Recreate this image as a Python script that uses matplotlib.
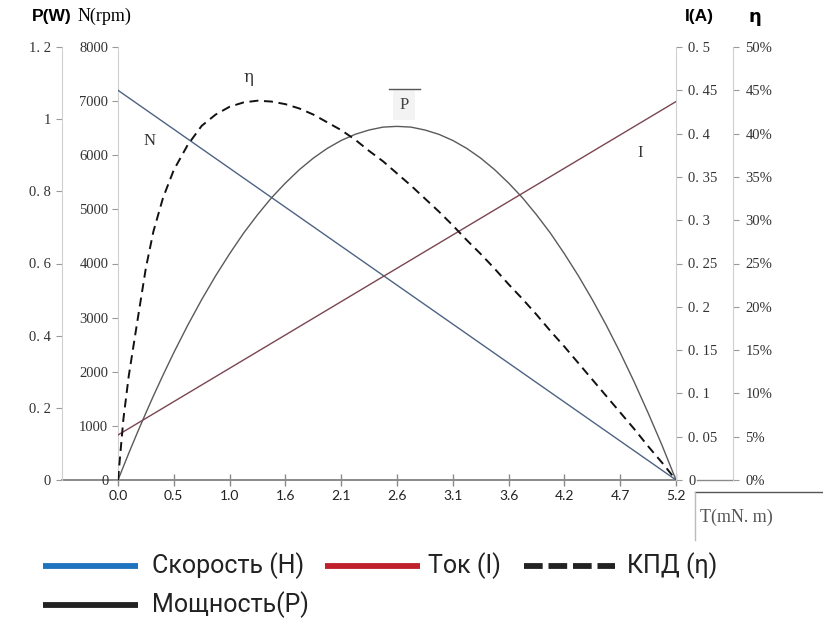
import matplotlib
matplotlib.use("Agg")
import matplotlib.pyplot as plt
from matplotlib.lines import Line2D

# === Data ===
torque = [0, 0.05, 0.10, 0.18, 0.26, 0.33, 0.42, 0.52, 0.65, 0.78,
          0.91, 1.04, 1.17, 1.30, 1.43, 1.56, 1.69, 1.82, 1.95, 2.08,
          2.21, 2.34, 2.47, 2.60, 2.73, 2.86, 2.99, 3.12, 3.25, 3.38,
          3.51, 3.64, 3.77, 3.90, 4.03, 4.16, 4.29, 4.42, 4.55, 4.68,
          4.81, 4.94, 5.07, 5.20]
power_w = [0, 0.037, 0.074, 0.131, 0.186, 0.233, 0.291, 0.353, 0.429, 0.500,
           0.566, 0.627, 0.684, 0.735, 0.782, 0.823, 0.860, 0.892, 0.919, 0.941,
           0.958, 0.970, 0.978, 0.980, 0.978, 0.970, 0.958, 0.941, 0.919, 0.892,
           0.860, 0.823, 0.782, 0.735, 0.684, 0.627, 0.566, 0.500, 0.429, 0.353,
           0.272, 0.186, 0.096, 0]
eff_pct = [0, 7.0, 12.0, 18.3, 24.5, 28.7, 32.6, 35.8, 38.7, 40.9,
           42.2, 43.1, 43.6, 43.8, 43.7, 43.4, 42.9, 42.2, 41.3, 40.4,
           39.3, 38.0, 36.8, 35.4, 34.0, 32.5, 31.0, 29.4, 27.7, 26.1,
           24.4, 22.6, 20.9, 19.1, 17.2, 15.4, 13.5, 11.6, 9.7, 7.8,
           5.9, 3.9, 2.0, 0]

torque_lin = [0, 5.2]
speed_rpm = [7200, 0]
current_a = [0.052, 0.437]

x_ticks = [0, 0.52, 1.04, 1.56, 2.08, 2.6, 3.12, 3.64, 4.16, 4.68, 5.2]
x_tick_labels = ["0.0", "0.5", "1.0", "1.6", "2.1", "2.6", "3.1", "3.6", "4.2", "4.7", "5.2"]
n_ticks = [0, 1000, 2000, 3000, 4000, 5000, 6000, 7000, 8000]
p_ticks = [0, 0.2, 0.4, 0.6, 0.8, 1.0, 1.2]
p_tick_labels = ["0", "0. 2", "0. 4", "0. 6", "0. 8", "1", "1. 2"]
i_ticks = [0, 0.05, 0.1, 0.15, 0.2, 0.25, 0.3, 0.35, 0.4, 0.45, 0.5]
i_tick_labels = ["0", "0. 05", "0. 1", "0. 15", "0. 2", "0. 25", "0. 3", "0. 35", "0. 4", "0. 45", "0. 5"]
e_ticks = [0, 5, 10, 15, 20, 25, 30, 35, 40, 45, 50]
e_tick_labels = ["0%", "5%", "10%", "15%", "20%", "25%", "30%", "35%", "40%", "45%", "50%"]

legend_labels = ["Скорость (Н)", "Ток (I)", "КПД (η)", "Мощность(P)"]

W, H = 823, 620
SERIF = "Liberation Serif"
SPINE = "#cfcfcf"


def fx(x):
    return x / W


def fy(y):
    return 1 - y / H


fig = plt.figure(figsize=(W / 100, H / 100), dpi=100)
ax = fig.add_axes([fx(118), fy(480), (676 - 118) / W, (480 - 47) / H])

# === Curves ===
ax.plot(torque_lin, speed_rpm, color="#4e6383", lw=1.0, zorder=3)
ax.set_xlim(0, 5.2)
ax.set_ylim(0, 8000)

ax_p = ax.twinx()
ax_p.plot(torque, power_w, color="#5a5a5a", lw=1.0, zorder=3)
ax_p.set_ylim(0, 1.2)

ax_i = ax.twinx()
ax_i.plot(torque_lin, current_a, color="#7a4650", lw=1.0, zorder=3)
ax_i.set_ylim(0, 0.5)

ax_e = ax.twinx()
ax_e.plot(torque, eff_pct, color="#111111", lw=1.4, dashes=(4.6, 2.9), zorder=3)
ax_e.set_ylim(0, 50)

for a in (ax, ax_p, ax_i, ax_e):
    for s in a.spines.values():
        s.set_visible(False)
    a.patch.set_visible(False)

# N axis (left of plot)
ax.spines["left"].set_visible(True)
ax.spines["left"].set_color(SPINE)
ax.spines["bottom"].set_visible(True)
ax.spines["bottom"].set_color("#8a8a8a")
ax.spines["bottom"].set_linewidth(1.4)
ax.set_yticks(n_ticks)
ax.set_yticklabels([str(v) for v in n_ticks], fontfamily=SERIF, fontsize=10.5, color="#333333")
ax.tick_params(axis="y", length=4, color="#999999", pad=3)
ax.set_xticks(x_ticks)
ax.set_xticklabels(x_tick_labels, fontfamily="Lato", fontsize=10, color="#222222")
ax.tick_params(axis="x", direction="inout", length=8, width=1.0, color="#8a8a8a", pad=3)

# P axis (outer left), offsets in points
ax_p.yaxis.set_ticks_position("left")
ax_p.spines["left"].set_visible(True)
ax_p.spines["left"].set_position(("outward", 40.3))
ax_p.spines["left"].set_color(SPINE)
ax_p.set_yticks(p_ticks)
ax_p.set_yticklabels(p_tick_labels, fontfamily=SERIF, fontsize=10.5, color="#333333")
ax_p.tick_params(axis="y", length=4, color="#999999", pad=4)

# I axis (right of plot)
ax_i.spines["right"].set_visible(True)
ax_i.spines["right"].set_color(SPINE)
ax_i.set_yticks(i_ticks)
ax_i.set_yticklabels(i_tick_labels, fontfamily=SERIF, fontsize=10.5, color="#333333")
ax_i.tick_params(axis="y", length=4, color="#999999", pad=5)

# eta axis (outer right)
ax_e.spines["right"].set_visible(True)
ax_e.spines["right"].set_position(("outward", 41))
ax_e.spines["right"].set_color(SPINE)
ax_e.set_yticks(e_ticks)
ax_e.set_yticklabels(e_tick_labels, fontfamily=SERIF, fontsize=10.5, color="#333333")
ax_e.tick_params(axis="y", length=4, color="#999999", pad=5)

# baseline extending to the outer axes
fig.add_artist(Line2D([fx(62), fx(118)], [fy(480), fy(480)], color="#8a8a8a", lw=1.4, zorder=0))
fig.add_artist(Line2D([fx(697), fx(733)], [fy(480), fy(480)], color="#8a8a8a", lw=1.0, zorder=0))

# === Axis headers ===
fig.text(fx(32), fy(16), "P(W)", fontsize=12.5, fontweight="bold", fontfamily="Liberation Sans", va="center")
fig.text(fx(78), fy(16), "N(rpm)", fontsize=13, fontfamily=SERIF, va="center")
fig.text(fx(685), fy(16), "I(A)", fontsize=12.5, fontweight="bold", fontfamily="Liberation Sans", va="center")
fig.text(fx(748), fy(17), "η", fontsize=13, fontweight="bold", fontfamily="DejaVu Sans", va="center")

# === Curve labels ===
fig.text(fx(150), fy(141), "N", fontsize=12, fontfamily=SERIF, color="#333333", ha="center", va="center")
fig.text(fx(248), fy(78), "η", fontsize=12, fontfamily="DejaVu Serif", color="#333333", ha="center", va="center")
fig.text(fx(640), fy(153), "I", fontsize=12, fontfamily=SERIF, color="#333333", ha="center", va="center")
fig.text(fx(404), fy(105), "P", fontsize=12, fontfamily=SERIF, color="#444444", ha="center", va="center",
         bbox=dict(boxstyle="square,pad=0.4", facecolor="#f3f3f3", edgecolor="none"), zorder=4)
fig.add_artist(Line2D([fx(389), fx(420)], [fy(89), fy(89)], color="#555555", lw=1.0, zorder=6))

# T(mN. m) box
fig.add_artist(Line2D([fx(695), fx(823)], [fy(492), fy(492)], color="#555555", lw=1.0))
fig.add_artist(Line2D([fx(695), fx(695)], [fy(492), fy(540)], color="#bbbbbb", lw=1.0))
fig.text(fx(700), fy(517), "T(mN. m)", fontsize=13, fontfamily=SERIF, color="#555555", va="center")

# === Legend ===
legend_colors = ["#1e73be", "#c0202a", "#222222", "#222222"]
legend_dash = [None, None, (3.2, 1.0), None]
legend_pos = [(43, 138, 152, 566), (325, 420, 428, 566), (524, 615, 627, 566), (43, 138, 152, 605)]
for lab, col, dsh, (x0, x1, xt, yy) in zip(legend_labels, legend_colors, legend_dash, legend_pos):
    ln = Line2D([fx(x0), fx(x1)], [fy(yy), fy(yy)], color=col, lw=4.2, solid_capstyle="butt",
                dash_capstyle="butt")
    if dsh is not None:
        ln.set_dashes(dsh)
    fig.add_artist(ln)
    fig.text(fx(xt), fy(yy), lab, fontsize=18, fontfamily="Roboto", color="#222222", va="center")

fig.savefig("out.png", dpi=100)
